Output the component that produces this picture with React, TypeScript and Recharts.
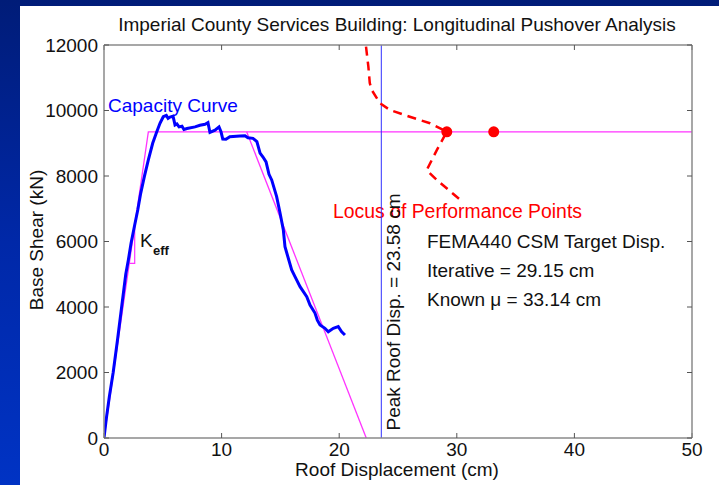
import React from 'react';
import {
  ComposedChart, Line, Scatter, XAxis, YAxis, ReferenceLine, Customized,
} from 'recharts';

const xTicks = [0, 10, 20, 30, 40, 50];
const yTicks = [0, 2000, 4000, 6000, 8000, 10000, 12000];

const capacityCurve = [
  { x: 0, y: 0 }, { x: 0.2, y: 600 }, { x: 0.45, y: 1250 }, { x: 0.78, y: 2000 },
  { x: 1.15, y: 3000 }, { x: 1.5, y: 4000 }, { x: 1.85, y: 5000 }, { x: 2.07, y: 5435 },
  { x: 2.3, y: 5945 }, { x: 2.58, y: 6450 }, { x: 2.87, y: 6962 }, { x: 3.12, y: 7470 },
  { x: 3.43, y: 7980 }, { x: 3.77, y: 8490 }, { x: 4.14, y: 9000 }, { x: 4.48, y: 9340 },
  { x: 4.76, y: 9610 }, { x: 5.04, y: 9810 }, { x: 5.3, y: 9850 }, { x: 5.45, y: 9760 },
  { x: 5.61, y: 9800 }, { x: 5.87, y: 9830 }, { x: 6.04, y: 9560 }, { x: 6.2, y: 9590 },
  { x: 6.38, y: 9500 }, { x: 6.63, y: 9520 }, { x: 6.8, y: 9420 }, { x: 7.06, y: 9450 },
  { x: 7.74, y: 9500 }, { x: 8.16, y: 9550 }, { x: 8.59, y: 9580 }, { x: 8.84, y: 9630 },
  { x: 9.01, y: 9330 }, { x: 9.44, y: 9400 }, { x: 9.78, y: 9500 }, { x: 9.95, y: 9350 },
  { x: 10.1, y: 9130 }, { x: 10.37, y: 9120 }, { x: 10.7, y: 9200 }, { x: 11.56, y: 9220 },
  { x: 11.99, y: 9230 }, { x: 12.24, y: 9170 }, { x: 12.67, y: 9150 }, { x: 13.0, y: 9050 },
  { x: 13.27, y: 8700 }, { x: 13.52, y: 8580 }, { x: 13.78, y: 8430 }, { x: 14.03, y: 8050 },
  { x: 14.26, y: 7880 }, { x: 14.68, y: 7370 }, { x: 14.97, y: 6870 }, { x: 15.25, y: 6350 },
  { x: 15.39, y: 5840 }, { x: 15.96, y: 5130 }, { x: 16.24, y: 4925 }, { x: 16.67, y: 4620 },
  { x: 17.24, y: 4315 }, { x: 17.52, y: 4060 }, { x: 17.94, y: 3815 }, { x: 18.14, y: 3600 },
  { x: 18.37, y: 3450 }, { x: 18.79, y: 3350 }, { x: 19.07, y: 3245 }, { x: 19.5, y: 3350 },
  { x: 19.92, y: 3400 }, { x: 20.21, y: 3245 }, { x: 20.49, y: 3145 },
];

const bilinear = [
  { x: 0, y: 0 }, { x: 3.77, y: 9350 }, { x: 50, y: 9350 },
];

const degradingBranch = [
  { x: 12.13, y: 9350 }, { x: 22.3, y: 0 },
];

const keffTriangle = [
  { x: 2.2, y: 5330 }, { x: 2.61, y: 5330 }, { x: 2.61, y: 6470 },
];

const locusPoints = [
  { x: 22.28, y: 11950 }, { x: 22.48, y: 11340 }, { x: 22.6, y: 10840 },
  { x: 22.76, y: 10630 }, { x: 23.47, y: 10220 }, { x: 24.32, y: 10015 },
  { x: 26.0, y: 9810 }, { x: 27.72, y: 9610 }, { x: 29.15, y: 9350 },
  { x: 28.3, y: 8790 }, { x: 27.44, y: 8180 }, { x: 28.3, y: 7880 },
  { x: 30.2, y: 7300 },
];

const targetPoints = [
  { x: 29.15, y: 9350 }, { x: 33.14, y: 9350 },
];

const peakRoofDisp = 23.58;

const FONT = '"Liberation Sans", Arial, Helvetica, sans-serif';
const AXIS_GREY = '#8a8a8a';
const MAGENTA = '#ff33ff';

const Annotations = () => (
  <g fontFamily={FONT} fontSize={19}>
    <text x={397} y={31} textAnchor="middle" fill="#111">
      Imperial County Services Building: Longitudinal Pushover Analysis
    </text>
    <text x={397} y={476} textAnchor="middle" fill="#111">Roof Displacement (cm)</text>
    <text x={43} y={240} textAnchor="middle" fill="#111" transform="rotate(-90, 43, 240)">
      Base Shear (kN)
    </text>
    <text x={108} y={112} fill="#0000ff">Capacity Curve</text>
    <text x={140} y={247} fill="#111">K</text>
    <text x={153} y={255} fill="#111" fontSize={13} fontWeight="bold">eff</text>
    <text x={333} y={218} fill="#ff0000" fontSize={19.4}>Locus of Performance Points</text>
    <text x={400} y={312} textAnchor="middle" fill="#111" transform="rotate(-90, 400, 312)">
      Peak Roof Disp. = 23.58 cm
    </text>
    <text x={427} y={248} fill="#111">FEMA440 CSM Target Disp.</text>
    <text x={427} y={277} fill="#111">Iterative = 29.15 cm</text>
    <text x={427} y={306} fill="#111">Known μ = 33.14 cm</text>
  </g>
);

const tickStyle = { fontFamily: FONT, fontSize: 19, fill: '#111' };

export default function App() {
  return (
    <div
      style={{
        position: 'absolute', left: 0, top: 0, width: 719, height: 485, overflow: 'hidden',
        background: 'linear-gradient(180deg, #001c78 0%, #0028a8 50%, #0033c4 100%)',
      }}
    >
      <div style={{ position: 'absolute', left: 20, top: 6, width: 699, height: 479, background: '#ffffff' }} />
      <div style={{ position: 'absolute', left: 0, top: 0 }}>
        <ComposedChart
          width={719}
          height={485}
          margin={{ top: 40, right: 0, bottom: 0, left: 0 }}
        >
          <XAxis
            xAxisId="main"
            dataKey="x"
            type="number"
            domain={[0, 50]}
            ticks={xTicks}
            allowDataOverflow
            height={47}
            tickSize={-5}
            tickMargin={10}
            axisLine={{ stroke: AXIS_GREY, strokeWidth: 1.5 }}
            tickLine={{ stroke: '#555' }}
            tick={tickStyle}
          />
          <XAxis
            xAxisId="top"
            orientation="top"
            dataKey="x"
            type="number"
            domain={[0, 50]}
            ticks={xTicks}
            allowDataOverflow
            height={5}
            tickSize={-5}
            tickFormatter={() => ''}
            axisLine={{ stroke: AXIS_GREY, strokeWidth: 1.5 }}
            tickLine={{ stroke: '#555' }}
          />
          <YAxis
            yAxisId="main"
            type="number"
            domain={[0, 12000]}
            ticks={yTicks}
            allowDataOverflow
            width={104}
            tickSize={-5}
            tickMargin={11}
            axisLine={{ stroke: AXIS_GREY, strokeWidth: 1.5 }}
            tickLine={{ stroke: '#555' }}
            tick={tickStyle}
          />
          <YAxis
            yAxisId="right"
            orientation="right"
            type="number"
            domain={[0, 12000]}
            ticks={yTicks}
            allowDataOverflow
            width={27}
            tickSize={-5}
            tickFormatter={() => ''}
            axisLine={{ stroke: AXIS_GREY, strokeWidth: 1.5 }}
            tickLine={{ stroke: '#555' }}
          />
          <Line
            xAxisId="main" yAxisId="main"
            data={bilinear} dataKey="y" type="linear"
            stroke={MAGENTA} strokeWidth={1.3} dot={false} isAnimationActive={false}
          />
          <Line
            xAxisId="main" yAxisId="main"
            data={degradingBranch} dataKey="y" type="linear"
            stroke={MAGENTA} strokeWidth={1.3} dot={false} isAnimationActive={false}
          />
          <Line
            xAxisId="main" yAxisId="main"
            data={keffTriangle} dataKey="y" type="linear"
            stroke={MAGENTA} strokeWidth={1.2} dot={false} isAnimationActive={false}
          />
          <ReferenceLine
            xAxisId="main" yAxisId="main"
            x={peakRoofDisp} stroke="#3030ff" strokeWidth={1}
          />
          <Line
            xAxisId="main" yAxisId="main"
            data={capacityCurve} dataKey="y" type="linear"
            stroke="#0000ff" strokeWidth={3} dot={false} isAnimationActive={false}
          />
          <Line
            xAxisId="main" yAxisId="main"
            data={locusPoints} dataKey="y" type="linear"
            stroke="#ff0000" strokeWidth={2.5} strokeDasharray="9 6"
            dot={false} isAnimationActive={false}
          />
          <Scatter
            xAxisId="main" yAxisId="main"
            data={targetPoints} dataKey="y" fill="#ff0000"
            shape={(p: any) => <circle cx={p.cx} cy={p.cy} r={5.5} fill="#ff0000" />}
            isAnimationActive={false}
          />
          <Customized component={Annotations} />
        </ComposedChart>
      </div>
    </div>
  );
}
